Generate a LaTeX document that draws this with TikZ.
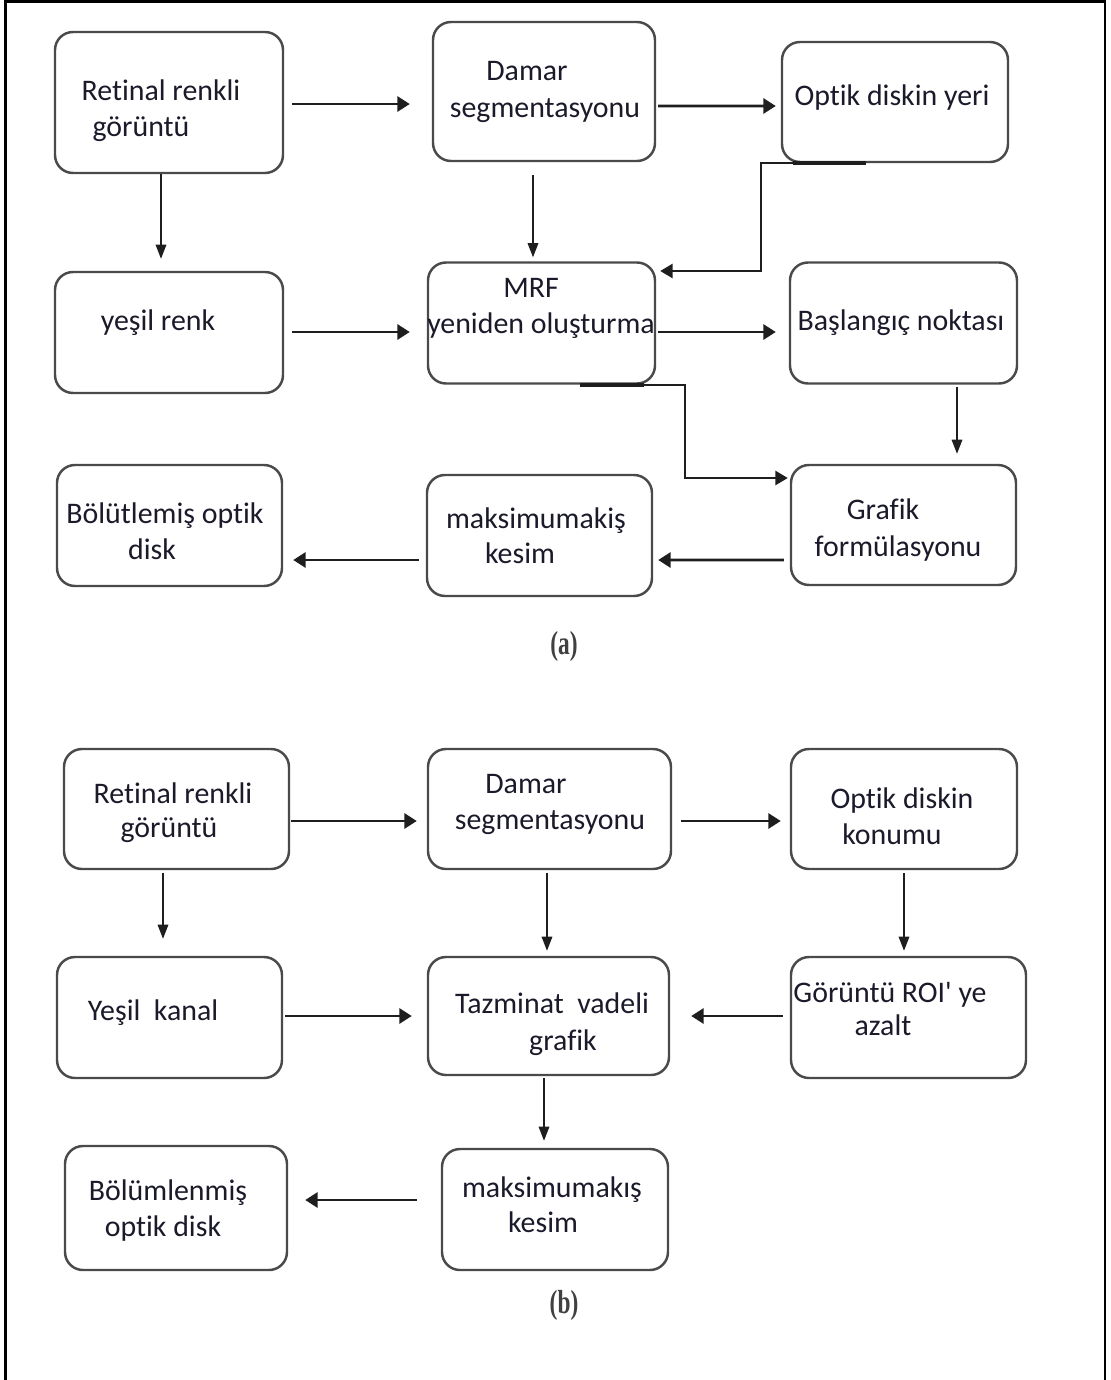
\documentclass[tikz,border=0pt]{standalone}
\usepackage{fontspec}
\setmainfont{Carlito}[Ligatures={NoCommon}]
\newfontfamily\nomapfont{Carlito}[Ligatures={TeXOff,NoCommon}]
\newfontfamily\capfont{Liberation Serif}
\usetikzlibrary{arrows.meta}
\definecolor{boxgray}{HTML}{4A4A4A}
\definecolor{arrcol}{HTML}{1E1E1E}
\definecolor{txtcol}{HTML}{1A1A2A}
\begin{document}
\begin{tikzpicture}[x=0.02cm,y=-0.02cm,
  box/.style 2 args={draw=boxgray, line width=1.4pt, rounded corners=0.36cm,
    minimum width=#1*0.02cm, minimum height=#2*0.02cm, inner sep=0pt},
  txt/.style={anchor=mid, inner sep=0pt, yshift=-0.08cm, font=\fontsize{17}{20}\selectfont, text=txtcol},
  captxt/.style={anchor=mid, inner sep=0pt, yshift=-0.06cm, font=\capfont\bfseries\fontsize{19}{22}\selectfont, text=black!75},
  harr/.style={draw=arrcol, line width=1.5pt, -{Triangle[length=7pt,width=8.5pt]}},
  varr/.style={draw=arrcol, line width=0.8pt, -{Triangle[length=8pt,width=6pt]}},
  earr/.style={draw=arrcol, line width=1.1pt, -{Triangle[length=7pt,width=8pt]}},
  thickseg/.style={draw=arrcol, line width=2.2pt}
]
\useasboundingbox (0,0) rectangle (1110,1380);
% outer frame
\draw[line width=1.4pt, black] (5.5,1385) -- (5.5,1.5) -- (1105,1.5) -- (1105,1385);

% ---------------- (a) ----------------
\node[box={228}{141}] (a1) at (169,102.5) {};
\node[box={222}{139}] (a2) at (544,91.5) {};
\node[box={226}{120}] (a3) at (895,102) {};
\node[box={228}{121}] (a4) at (169,332.5) {};
\node[box={227}{121}] (a5) at (541.5,323) {};
\node[box={227}{121}] (a6) at (903.5,323) {};
\node[box={225}{121}] (a7) at (169.5,525.5) {};
\node[box={225}{121}] (a8) at (539.5,535.5) {};
\node[box={225}{120}] (a9) at (903.5,525) {};

\node[txt] (a1t1) at (161,92) {Retinal renkli};
\node[txt] (a1t2) at (141,128) {görüntü};
\node[txt] (a2t1) at (527,72) {Damar};
\node[txt] (a2t2) at (545,109) {segmentasyonu};
\node[txt] (a3t1) at (892,97) {Optik diskin yeri};
\node[txt] (a4t1) at (158,322) {yeşil renk};
\node[txt] (a5t1) at (531,289) {MRF};
\node[txt] (a5t2) at (541,325) {yeniden oluşturma};
\node[txt] (a6t1) at (901,322) {Başlangıç noktası};
\node[txt] (a7t1) at (165,515) {Bölütlemiş optik};
\node[txt] (a7t2) at (152,551) {disk};
\node[txt] (a8t1) at (536,520) {maksimumakiş};
\node[txt] (a8t2) at (520,555) {kesim};
\node[txt] (a9t1) at (883,511) {Grafik};
\node[txt] (a9t2) at (898,548) {formülasyonu};

\node[captxt] (capa) at (564,647) {\scalebox{0.7}[1.0]{(a)}};

\draw[harr] ([shift={(8,1.5)}]a1.east) -- ([shift={(-22,12.5)}]a2.west);
\draw[harr] ([shift={(2,14.5)}]a2.east) -- ([shift={(-5,4)}]a3.west);
\draw[varr] ([shift={(-8,0)}]a1.south) -- ([shift={(-8,-12)}]a4.north);
\draw[varr] ([shift={(-11,13)}]a2.south) -- ([shift={(-8.5,-4)}]a5.north);
\draw[harr] ([shift={(8,-0.5)}]a4.east) -- ([shift={(-17,9)}]a5.west);
\draw[harr] ([shift={(2,9)}]a5.east) -- ([shift={(-13,9)}]a6.west);
% elbow a3 -> a5
\draw[thickseg] ([shift={(-102,0)}]a3.south) -- ([shift={(-29,0)}]a3.south);
\draw[earr] ([shift={(-29,0)}]a3.south) -- ([shift={(-134,0)}]a3.south) |- ([shift={(4,-52)}]a5.east);
% elbow a5 -> a9
\draw[thickseg] ([shift={(38,0)}]a5.south) -- ([shift={(102,0)}]a5.south);
\draw[earr] ([shift={(38,0)}]a5.south) -| ([shift={(-105,-47)}]a9.west) -- ([shift={(-2,-47)}]a9.west);
\draw[varr] ([shift={(53.5,2)}]a6.south) -- ([shift={(53.5,-10)}]a9.north);
\draw[harr] ([shift={(-6,35)}]a9.west) -- ([shift={(5,24.5)}]a8.east);
\draw[harr] ([shift={(-7,24.5)}]a8.west) -- ([shift={(10,34.5)}]a7.east);

% ---------------- (b) ----------------
\node[box={225}{120}] (b1) at (176.5,809) {};
\node[box={243}{120}] (b2) at (549.5,809) {};
\node[box={226}{120}] (b3) at (904,809) {};
\node[box={225}{121}] (b4) at (169.5,1017.5) {};
\node[box={241}{118}] (b5) at (548.5,1016) {};
\node[box={235}{121}] (b6) at (908.5,1017.5) {};
\node[box={222}{124}] (b7) at (176,1208) {};
\node[box={226}{121}] (b8) at (555,1209.5) {};

\node[txt] (b1t1) at (173,795) {Retinal renkli};
\node[txt] (b1t2) at (169,829) {görüntü};
\node[txt] (b2t1) at (526,785) {Damar};
\node[txt] (b2t2) at (550,821) {segmentasyonu};
\node[txt] (b3t1) at (902,800) {Optik diskin};
\node[txt] (b3t2) at (892,836) {konumu};
\node[txt] (b4t1) at (153,1012) {Yeşil\ \ kanal};
\node[txt] (b5t1) at (552,1005) {Tazminat\ \ vadeli};
\node[txt] (b5t2) at (563,1042) {grafik};
\node[txt] (b6t1) at (890,994) {Görüntü ROI{\nomapfont '} ye};
\node[txt] (b6t2) at (883,1027) {azalt};
\node[txt] (b7t1) at (168,1192) {Bölümlenmiş};
\node[txt] (b7t2) at (163,1228) {optik disk};
\node[txt] (b8t1) at (552,1189) {maksimumakış};
\node[txt] (b8t2) at (543,1224) {kesim};

\node[captxt] (capb) at (564,1306) {\scalebox{0.7}[1.0]{(b)}};

\draw[harr] ([shift={(1,12)}]b1.east) -- ([shift={(-10,12)}]b2.west);
\draw[harr] ([shift={(9,12)}]b2.east) -- ([shift={(-9,12)}]b3.west);
\draw[varr] ([shift={(-13.5,3)}]b1.south) -- ([shift={(-6.5,-17)}]b4.north);
\draw[varr] ([shift={(-2.5,3)}]b2.south) -- ([shift={(-1.5,-5)}]b5.north);
\draw[varr] ([shift={(0,3)}]b3.south) -- ([shift={(-4.5,-5)}]b6.north);
\draw[harr] ([shift={(2,-1.5)}]b4.east) -- ([shift={(-15,0)}]b5.west);
\draw[harr] ([shift={(-7,-1.5)}]b6.west) -- ([shift={(21,0)}]b5.east);
\draw[varr] ([shift={(-4.5,2)}]b5.south) -- ([shift={(-11,-7)}]b8.north);
\draw[harr] ([shift={(-24,-9.5)}]b8.west) -- ([shift={(17,-8)}]b7.east);
\end{tikzpicture}
\end{document}
